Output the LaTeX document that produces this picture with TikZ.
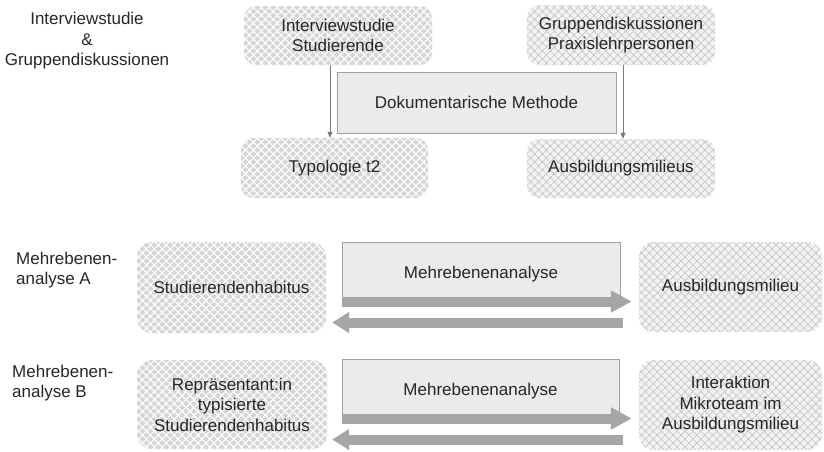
\documentclass[tikz,border=0pt]{standalone}
\usepackage{fontspec}
\setmainfont{Liberation Sans}
\usetikzlibrary{patterns.meta,arrows.meta,calc}
\definecolor{txt}{HTML}{262626}
\definecolor{darkbg}{HTML}{D5D5D5}
\definecolor{lightbg}{HTML}{F3F3F3}
\definecolor{lightln}{HTML}{CACACA}
\definecolor{boxfill}{HTML}{EBEBEB}
\definecolor{boxline}{HTML}{A0A0A0}
\definecolor{bigarr}{HTML}{A6A6A6}
\definecolor{thinarr}{HTML}{7A7A7A}
\tikzset{
  base/.style={font=\fontsize{17}{20.5}\selectfont, text=txt, align=center, inner sep=0pt},
  darkbox/.style={base, rounded corners=12pt, fill=darkbg,
    postaction={pattern={Hatch[angle=45,distance=5.6pt,line width=1.2pt]}, pattern color=white!92!darkbg}},
  lightbox/.style={base, rounded corners=12pt, fill=lightbg,
    postaction={pattern={Hatch[angle=45,distance=5.6pt,line width=0.8pt]}, pattern color=lightln}},
  plainbox/.style={base, fill=boxfill, draw=boxline, line width=1pt},
  lbl/.style={base},
  thinarrow/.style={draw=thinarr, line width=1pt, -{Triangle[length=6pt 0 0,width=5pt 0 0]}},
  big/.style={draw=bigarr, line width=10pt, -{Triangle[length=21pt 0 0,width=21pt 0 0]}},
  bigl/.style={draw=bigarr, line width=10pt, -{Triangle[length=17pt 0 0,width=20pt 0 0]}},
}
\begin{document}
\begin{tikzpicture}[x=1pt,y=-1pt]
\useasboundingbox (0,0) rectangle (824,451);
% left labels
\node[lbl] (l1) at (87,41) {Interviewstudie\\\&\\Gruppendiskussionen};
\node[lbl, anchor=west, align=left] (l2) at (16,270) {Mehrebenen-\\analyse A};
\node[lbl, anchor=west, align=left] (l3) at (12,383) {Mehrebenen-\\analyse B};
% top part
\node[darkbox, minimum width=188pt, minimum height=59pt] (ivs) at (338,35.5) {Interviewstudie\\Studierende};
\node[lightbox, minimum width=188pt, minimum height=60pt] (grp) at (621,35) {Gruppendiskussionen\\Praxislehrpersonen};
\node[plainbox, minimum width=279pt, minimum height=61pt] (dok) at (476.5,102.5) {Dokumentarische Methode};
\node[darkbox, minimum width=187pt, minimum height=60pt] (typ) at (334.5,168) {Typologie t2};
\node[lightbox, minimum width=188pt, minimum height=59pt] (aus) at (621,168.5) {Ausbildungsmilieus};
\draw[thinarrow] ([xshift=-8pt]ivs.south) -- ([xshift=-4.5pt]typ.north);
\draw[thinarrow] ([xshift=2pt]grp.south) -- ([xshift=2pt]aus.north);
% row A
\node[darkbox, rounded corners=15pt, minimum width=189pt, minimum height=91pt] (sh) at (231.5,287.5) {Studierendenhabitus};
\node[plainbox, minimum width=278pt, minimum height=64pt] (mA) at (481,274) {Mehrebenenanalyse};
\node[lightbox, rounded corners=15pt, minimum width=183pt, minimum height=90pt] (am) at (730.5,287) {Ausbildungsmilieu};
\coordinate (aA1) at ($(mA.south west)+(0,-5)$);
\coordinate (aA2) at ($(mA.south east)+(2,16)$);
\draw[big, shorten >=7pt] (aA1) -- (aA1 -| am.west);
\draw[bigl, shorten >=6pt] (aA2) -- (aA2 -| sh.east);
% row B
\node[darkbox, rounded corners=15pt, minimum width=190pt, minimum height=89pt] (rep) at (232,404.5) {Repräsentant:in\\typisierte\\Studierendenhabitus};
\node[plainbox, minimum width=277pt, minimum height=64pt] (mB) at (480.5,391) {Mehrebenenanalyse};
\node[lightbox, rounded corners=15pt, minimum width=183pt, minimum height=90pt] (ia) at (730.5,405) {Interaktion\\Mikroteam im\\Ausbildungsmilieu};
\coordinate (aB1) at ($(mB.south west)+(0,-5)$);
\coordinate (aB2) at ($(mB.south east)+(3,16)$);
\draw[big, shorten >=7pt] (aB1) -- (aB1 -| ia.west);
\draw[bigl, shorten >=5pt] (aB2) -- (aB2 -| rep.east);
\end{tikzpicture}
\end{document}
